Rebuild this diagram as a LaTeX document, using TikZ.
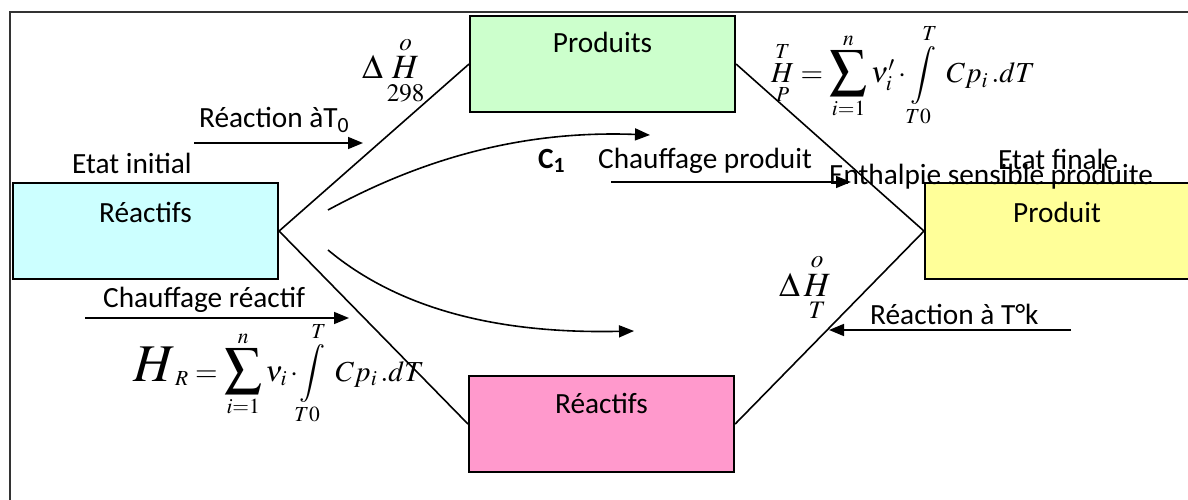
\documentclass[tikz,border=0pt]{standalone}
\usepackage{amsmath}
\usepackage{mathptmx}
\usepackage[no-math]{fontspec}
\setmainfont{Carlito}
\usetikzlibrary{arrows.meta}

\definecolor{reacfill}{HTML}{CCFFFF}
\definecolor{prodfill}{HTML}{CCFFCC}
\definecolor{finfill}{HTML}{FFFF99}
\definecolor{reactTfill}{HTML}{FF99CC}

% a summation sign drawn a little larger than the display one
\newcommand{\bigsigma}{\mathop{\text{\fontsize{37}{44}\selectfont$\displaystyle\sum$}}\limits}

\tikzset{
  box/.style={draw, line width=2.1pt, minimum width=265pt, minimum height=96pt,
              inner sep=0pt, anchor=north west},
  lbl/.style={inner sep=0pt, anchor=base west, font=\fontsize{29.3}{35}\selectfont},
  boxlbl/.style={inner sep=0pt, anchor=base, font=\fontsize{29.3}{35}\selectfont},
  eq/.style={inner sep=0pt, anchor=base west, font=\fontsize{29}{35}\selectfont},
  deq/.style={inner sep=0pt, anchor=base west, font=\fontsize{34}{40}\selectfont},
  link/.style={line width=1.6pt},
  flow/.style={line width=1.6pt, -{Triangle[length=15pt,width=12pt]}},
}

\begin{document}
\begin{tikzpicture}[x=1pt, y=-1pt]
\useasboundingbox (0,0) rectangle (1188,500);
\clip (0,0) rectangle (1188,500);

% outer frame
\draw[line width=1.8pt, black!80] (10,500) -- (10,12) -- (1195,12);

% the four states
\node[box, fill=reacfill]   (r0) at (12,182)  {};
\node[box, fill=prodfill]   (p0) at (469,15)  {};
\node[box, fill=finfill, minimum width=280pt] (pf) at (924,182) {};
\node[box, fill=reactTfill] (rT) at (468,375) {};

\node[boxlbl] (r0t) at ([yshift=-40pt]r0.north) {Réactifs};
\node[boxlbl] (p0t) at ([yshift=-38pt]p0.north) {Produits};
\node[boxlbl] (pft) at ([yshift=-40pt]pf.north -| 1057,0) {Produit};
\node[boxlbl] (rTt) at ([yshift=-38pt]rT.north) {Réactifs};

% the two paths of the cycle
\draw[link] (r0.east) -- (p0.west);
\draw[link] (p0.east) -- (pf.west);
\draw[link] (r0.east) -- (rT.west);
\draw[link] (rT.east) -- (pf.west);

% curved heating arrows
\coordinate (c1s) at (328,210);
\coordinate (c1e) at (650,135);
\coordinate (c2s) at (328,250);
\coordinate (c2e) at (634,331);
\draw[flow] (c1s) .. controls (420,160) and (520,130) .. (c1e);
\draw[flow] (c2s) .. controls (400,310) and (500,334) .. (c2e);

% straight arrows
\coordinate (a1s) at (194,143);  \coordinate (a1e) at (363,143);
\coordinate (a2s) at (611,182);  \coordinate (a2e) at (851,182);
\coordinate (a3s) at (85,318);   \coordinate (a3e) at (349,318);
\coordinate (a4s) at (1071,330); \coordinate (a4e) at (829,330);
\draw[flow] (a1s) -- (a1e);
\draw[flow] (a2s) -- (a2e);
\draw[flow] (a3s) -- (a3e);
\draw[flow] (a4s) -- (a4e);

% labels
\node[lbl] (ei)  at (72,173)  {Etat initial};
\node[lbl] (rt0) at (199,128) {Réaction àT$_{\text{0}}$};
\node[lbl, font=\fontsize{29.3}{35}\selectfont\bfseries] (c1) at (538,168) {C$_{\text{1}}$};
\node[lbl] (chp) at (598,168) {Chauffage produit};
\node[lbl] (ef)  at (998,169) {Etat finale};
\node[lbl] (esp) at (829,184) {Enthalpie sensible produite};
\node[lbl] (rtk) at (870,324) {Réaction à T°k};
\node[lbl] (chr) at (103,307) {Chauffage réactif};

% enthalpies
\node[deq] (dh298) at (362,79) {$\Delta\,\overset{o}{\underset{298}{H}}$};
\node[deq] (dhT)   at (779,296) {$\Delta\,\overset{o}{\underset{T}{H}}$};
\node[eq] (hp) at (771,83)
  {$\displaystyle \overset{T}{\underset{P}{H}} = \bigsigma_{i=1}^{n}\nu'_i\cdot\int\limits_{T0}^{T}\; Cp_i\,.dT$};
\node[eq] (hr) at (133,381)
  {$\displaystyle \text{\fontsize{53}{60}\selectfont$H$}_{R} = \bigsigma_{i=1}^{n}\nu_i\cdot\!\int\limits_{T0}^{T}\; Cp_i\,.dT$};
\end{tikzpicture}
\end{document}
